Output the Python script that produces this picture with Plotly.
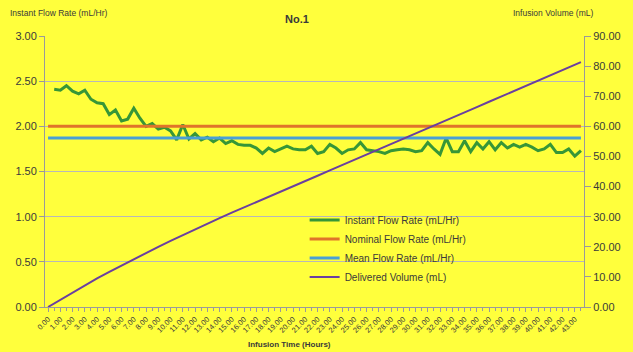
import plotly.graph_objects as go

# ---- data ----
flow_hours = [h * 0.5 for h in range(1, 88)]  # 0.5 .. 43.5
instant_flow = [
    2.41, 2.40, 2.45, 2.39, 2.36, 2.40, 2.30, 2.26, 2.25, 2.13,
    2.18, 2.06, 2.08, 2.20, 2.09, 2.00, 2.03, 1.97, 1.99, 1.95,
    1.85, 2.02, 1.86, 1.92, 1.85, 1.88, 1.83, 1.87, 1.81, 1.84,
    1.80, 1.79, 1.79, 1.76, 1.70, 1.76, 1.72, 1.75, 1.78, 1.75,
    1.74, 1.74, 1.78, 1.70, 1.72, 1.80, 1.76, 1.70, 1.74, 1.75,
    1.82, 1.74, 1.73, 1.72, 1.70, 1.73, 1.74, 1.75, 1.74, 1.72,
    1.73, 1.82, 1.75, 1.69, 1.87, 1.72, 1.72, 1.84, 1.72, 1.82,
    1.75, 1.83, 1.74, 1.82, 1.76, 1.80, 1.77, 1.80, 1.77, 1.73,
    1.75, 1.80, 1.71, 1.71, 1.75, 1.67, 1.73,
]
all_hours = [h * 0.5 for h in range(0, 88)]  # 0 .. 43.5
nominal_flow = 2.00
mean_flow = 1.87
volume_hours = [float(h) for h in range(0, 44)] + [43.5]
delivered_volume = [
    0.00, 2.41, 4.83, 7.21, 9.49, 11.68, 13.80, 15.94, 17.98, 19.98,
    21.95, 23.89, 25.78, 27.64, 29.49, 31.32, 33.11, 34.89, 36.62, 38.35,
    40.12, 41.86, 43.60, 45.36, 47.09, 48.83, 50.61, 52.34, 54.05, 55.80,
    57.53, 59.30, 61.02, 62.82, 64.60, 66.37, 68.16, 69.94, 71.72, 73.50,
    75.25, 77.03, 78.74, 80.45, 81.31,
]
x_tick_vals = list(range(0, 44))
x_tick_text = [f"{v:.2f}" for v in x_tick_vals]

BG = "#FFFF3C"
FONT = "Liberation Sans, Arial, sans-serif"
TXT = "#3a3a3a"

fig = go.Figure()
fig.add_trace(go.Scatter(x=flow_hours, y=instant_flow, mode="lines",
                         name="Instant Flow Rate (mL/Hr)",
                         line=dict(color="#379637", width=3)))
fig.add_trace(go.Scatter(x=all_hours, y=[nominal_flow] * len(all_hours), mode="lines",
                         name="Nominal Flow Rate (mL/Hr)",
                         line=dict(color="#E0742A", width=3)))
fig.add_trace(go.Scatter(x=all_hours, y=[mean_flow] * len(all_hours), mode="lines",
                         name="Mean Flow Rate (mL/Hr)",
                         line=dict(color="#4A9FD6", width=3)))
fig.add_trace(go.Scatter(x=volume_hours, y=delivered_volume, mode="lines",
                         name="Delivered Volume (mL)", yaxis="y2",
                         line=dict(color="#6A3FA0", width=2)))

W, H = 633, 352
L, R, T, B = 45, 42, 36, 45
pw, ph = W - L - R, H - T - B


def px(xp):
    return (xp - L) / pw


def py(yp):
    return (H - B - yp) / ph


fig.update_layout(
    width=W, height=H,
    margin=dict(l=L, r=R, t=T, b=B),
    paper_bgcolor=BG, plot_bgcolor=BG,
    font=dict(family=FONT, color=TXT),
    showlegend=True,
    legend=dict(x=px(308), y=0.375, xanchor="left", yanchor="top",
                bgcolor="rgba(0,0,0,0)", font=dict(size=10, color=TXT),
                tracegroupgap=0, itemwidth=30),
    xaxis=dict(range=[-0.25, 43.75], tickmode="array", tickvals=x_tick_vals,
               ticktext=x_tick_text, tickangle=-45, tickfont=dict(size=7.5, color=TXT),
               showgrid=False, zeroline=False, showline=True, linecolor="#9a9a9a",
               ticks="outside", ticklen=4, tickcolor="#9a9a9a",
               minor=dict(dtick=0.5, tick0=0, ticks="outside", ticklen=3, tickcolor="#9a9a9a")),
    yaxis=dict(range=[0, 3], dtick=0.5, tickformat=".2f", tickfont=dict(size=11, color=TXT),
               showgrid=True, gridcolor="#b8b8b8", gridwidth=1, zeroline=False,
               showline=True, linecolor="#9a9a9a", ticks="outside", ticklen=5,
               tickcolor="#9a9a9a"),
    yaxis2=dict(range=[0, 90], dtick=10, tickformat=".2f", tickfont=dict(size=11, color=TXT),
                overlaying="y", side="right", showgrid=False, zeroline=False,
                showline=True, linecolor="#9a9a9a", ticks="outside", ticklen=6,
                tickcolor="#9a9a9a"),
)

fig.add_annotation(text="Instant Flow Rate (mL/Hr)", x=px(8), y=py(13), xref="paper", yref="paper",
                   xanchor="left", yanchor="middle", showarrow=False, font=dict(size=8.5, color=TXT))
fig.add_annotation(text="<b>No.1</b>", x=px(300), y=py(19), xref="paper", yref="paper",
                   xanchor="center", yanchor="middle", showarrow=False, font=dict(size=11, color=TXT))
fig.add_annotation(text="Infusion Volume (mL)", x=px(602), y=py(13), xref="paper", yref="paper",
                   xanchor="right", yanchor="middle", showarrow=False, font=dict(size=8.5, color=TXT))
fig.add_annotation(text="<b>Infusion Time (Hours)</b>", x=px(293), y=py(344), xref="paper", yref="paper",
                   xanchor="center", yanchor="middle", showarrow=False, font=dict(size=8, color=TXT))

fig.write_html("out.html")
